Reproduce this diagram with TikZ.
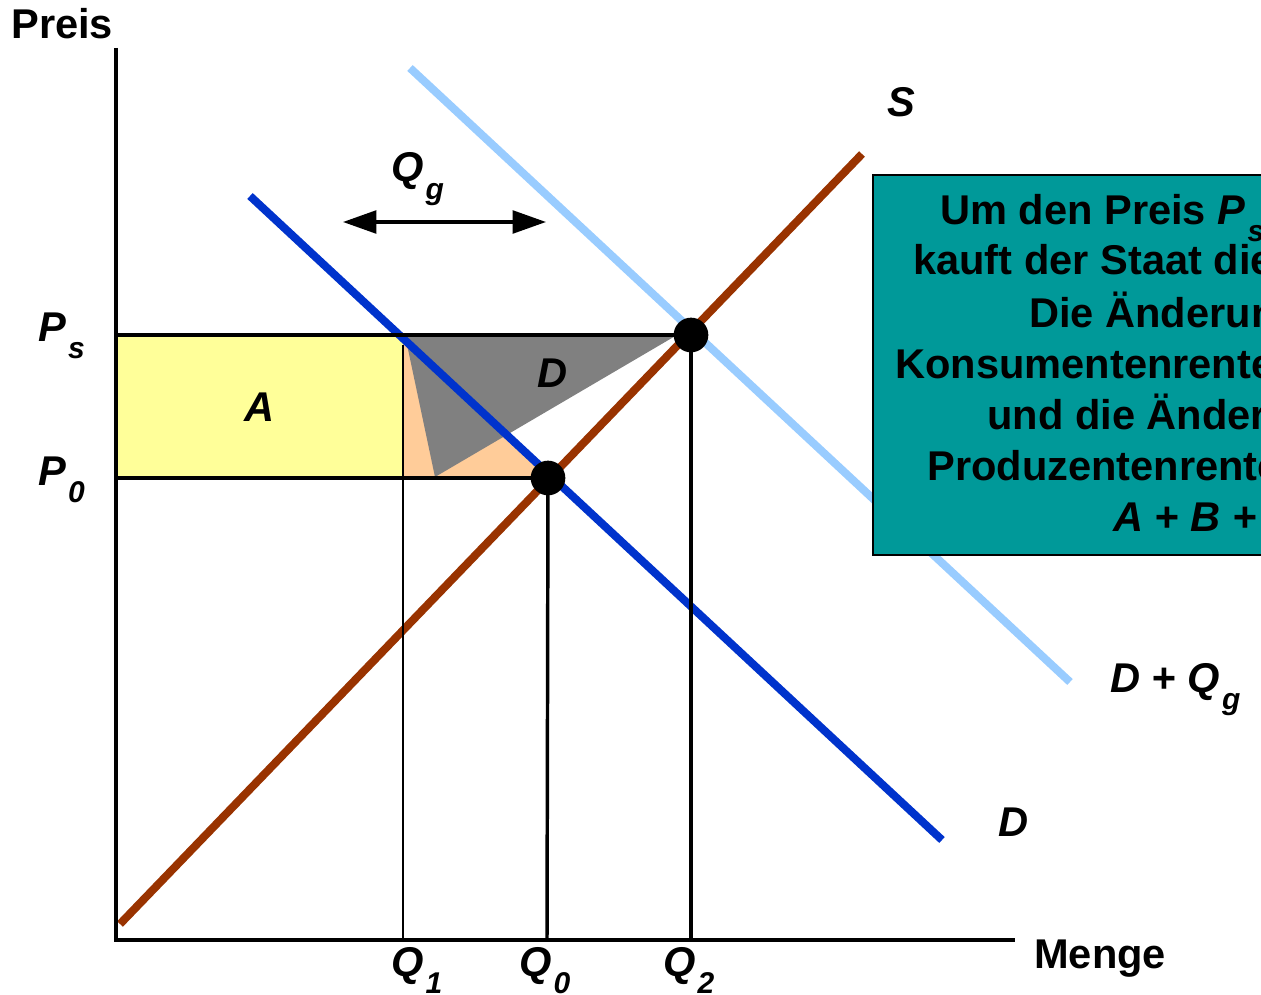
\documentclass[tikz,border=0pt]{standalone}
\usepackage{fontspec}
\setmainfont{Liberation Sans}
\usetikzlibrary{arrows.meta}
\definecolor{supplyc}{HTML}{993300}
\definecolor{demandc}{HTML}{0033CC}
\definecolor{shiftc}{HTML}{99CCFF}
\definecolor{boxc}{HTML}{009999}
\definecolor{peachc}{HTML}{FFCC99}
\definecolor{yelc}{HTML}{FFFF99}
\definecolor{grayc}{HTML}{808080}
\newcommand\mysub[1]{\kern0.05em\raisebox{-0.42em}{\fontsize{22.5}{22.5}\selectfont #1}}
\begin{document}
\begin{tikzpicture}[x=0.75pt,y=-0.75pt,
  lbl/.style={font=\fontsize{31.2}{36}\selectfont\bfseries\itshape, inner sep=0},
  plain/.style={font=\fontsize{31.2}{36}\selectfont\bfseries, inner sep=0},
  axis/.style={line width=3pt},
  guide/.style={line width=2.6pt},
  thinguide/.style={line width=1.5pt},
  curve/.style={line width=6pt},
  dot/.style={circle, fill=black, minimum size=26pt, inner sep=0}]
\useasboundingbox (0,0) rectangle (1261,995);
\clip (0,0) rectangle (1261,995);

% coordinates
\coordinate (O) at (116,940);
\coordinate (Ytop) at (116,48);
\coordinate (Xend) at (1015,940);
\coordinate (PsL) at (116,335);
\coordinate (P0L) at (116,478);
\coordinate (Q1b) at (403,940);
\coordinate (Q1t) at (403,345);
\coordinate (Q0b) at (547,940);
\coordinate (Q2b) at (691,940);

% fills
\fill[yelc] (118,335) rectangle (403,478);
\fill[peachc] (403,338) -- (403,478) -- (553,478) -- cycle;
\fill[grayc] (405,335) -- (677,335) -- (435,477) -- cycle;

% supply and demand
\draw[curve, shiftc] (410,68) coordinate (DQa) -- (1070,682) coordinate (DQb);
\draw[curve, supplyc] (120,924) coordinate (Sa) -- (862,154) coordinate (Sb);
\draw[curve, demandc] (250,196) coordinate (Da) -- (942,840) coordinate (Db);

% equilibrium points
\node[dot] (E0) at (548,478) {};
\node[dot] (E2) at (691,335) {};

% guide lines
\draw[guide] (PsL) -- (E2.center);
\draw[guide] (P0L) -- (E0.center);
\draw[thinguide] (Q1t) -- (Q1b);
\draw[guide] (E0.center) -- (Q0b);
\draw[guide] (E2.center) -- (Q2b);

% axes
\draw[axis] (Ytop) -- (O) -- (Xend);

% Qg arrow
\coordinate (AL) at (343,222);
\coordinate (AR) at (546,222);
\draw[line width=2.6pt, {Triangle[length=25pt,width=17pt]}-{Triangle[length=25pt,width=17pt]}] (AL) -- (AR);

% labels
\node[plain, anchor=base west] (preis) at (11,39) {Preis};
\node[plain, anchor=base west] (menge) at (1034,968) {Menge};
\node[lbl, anchor=base west] (slab) at (887,117) {S};
\node[lbl, anchor=base west] (qg) at (391,182) {Q\mysub{g}};
\node[lbl, anchor=base west] (ps) at (38,341) {P\mysub{s}};
\node[lbl, anchor=base west] (p0) at (38,485) {P\mysub{0}};
\node[lbl] (alab) at (260,407) {A};
\node[lbl] (dlab) at (553,373) {D};
\node[lbl, anchor=base west] (dqg) at (1110,692) {D + Q\mysub{g}};
\node[lbl, anchor=base west] (dd) at (998,836) {D};
\node[lbl, anchor=base west] (q1) at (391,976) {Q\mysub{1}};
\node[lbl, anchor=base west] (q0) at (519,976) {Q\mysub{0}};
\node[lbl, anchor=base west] (q2) at (663,976) {Q\mysub{2}};

% text box
\draw[boxc, fill=boxc] (873,175) rectangle (1300,555);
\draw[line width=1.5pt] (1300,175) -- (873,175) -- (873,555) -- (1300,555);
\node[plain, anchor=base west] (t1) at (940,224) {Um den Preis \textit{P\mysub{s}} zu halten,};
\node[plain, anchor=base west] (t2) at (913,275) {kauft der Staat die Menge};
\node[plain, anchor=base west] (t3) at (1029,327) {Die Änderung der};
\node[plain, anchor=base west] (t4) at (895,378) {Konsumentenrente beträgt};
\node[plain, anchor=base west] (t5) at (987,429) {und die Änderung der};
\node[plain, anchor=base west] (t6) at (927,480) {Produzentenrente beträgt};
\node[plain, anchor=base west] (t7) at (1113,531) {\textit{A + B + D}};
\end{tikzpicture}
\end{document}
